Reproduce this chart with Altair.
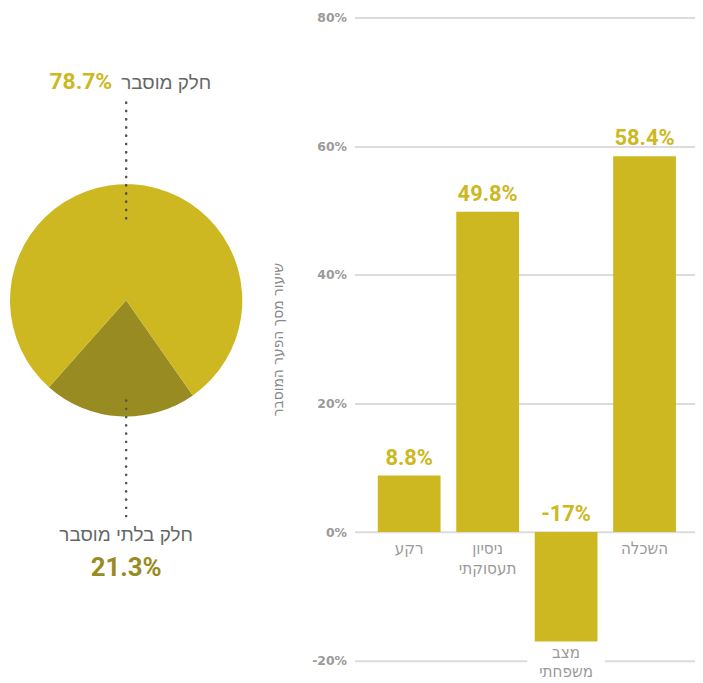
import altair as alt
import pandas as pd

# ---- data ----
categories = ["רקע", "ניסיון\nתעסוקתי", "מצב\nמשפחתי", "השכלה"]
shares = [8.8, 49.8, -17.0, 58.4]
y_ticks = [-20, 0, 20, 40, 60, 80]

pie_parts = ["חלק בלתי מוסבר", "חלק מוסבר"]
pie_values = [21.3, 78.7]
pie_order = [0, 1]

LIGHT = "#CDB822"
DARK = "#988B21"
NUM = "Roboto, 'DejaVu Sans Condensed', sans-serif"
HEB = "'Liberation Sans', 'DejaVu Sans Condensed', sans-serif"
COND = "'DejaVu Sans Condensed', sans-serif"

bars_df = pd.DataFrame({"cat": categories, "value": shares})
pie_df = pd.DataFrame({"part": pie_parts, "value": pie_values, "ord": pie_order})

# ---- pie panel ----
PW, PH = 250, 648
CX, CY = 119, 285

pie_base = alt.Chart(pie_df)
arc = pie_base.mark_arc(radius=117).encode(
    theta=alt.Theta("value:Q", stack=True,
                    scale=alt.Scale(range=[2.53, 2.53 + 6.2832])),
    color=alt.Color("part:N", scale=alt.Scale(domain=pie_parts, range=[DARK, LIGHT]), legend=None),
    order=alt.Order("ord:Q"),
    x=alt.value(CX), y=alt.value(CY),
)

top_rule = pie_base.mark_rule(color="#555555", strokeWidth=2.4, strokeDash=[0.01, 8.3],
                              strokeCap="round").encode(
    x=alt.value(CX), y=alt.value(86), y2=alt.value(208))
bot_rule = pie_base.mark_rule(color="#555555", strokeWidth=2.4, strokeDash=[0.01, 8.3],
                              strokeCap="round").encode(
    x=alt.value(CX), y=alt.value(386), y2=alt.value(506))

expl = pie_base.transform_filter(alt.datum.ord == 1).transform_calculate(
    pct="datum.value + '%'")
unexpl = pie_base.transform_filter(alt.datum.ord == 0).transform_calculate(
    pct="datum.value + '%'")

top_name = expl.mark_text(font=HEB, fontSize=19, color="#666666", align="left",
                          baseline="middle").encode(
    x=alt.value(114), y=alt.value(66), text="part:N")
top_pct = expl.mark_text(font=NUM, fontSize=23, fontWeight="bold", color=LIGHT,
                         align="right", baseline="middle").encode(
    x=alt.value(105), y=alt.value(65), text="pct:N")
bot_name = unexpl.mark_text(font=HEB, fontSize=19, color="#666666", align="center",
                            baseline="middle").encode(
    x=alt.value(CX), y=alt.value(521), text="part:N")
bot_pct = unexpl.mark_text(font=NUM, fontSize=26, fontWeight="bold", color=DARK,
                           align="center", baseline="middle").encode(
    x=alt.value(CX), y=alt.value(555), text="pct:N")

pie_panel = alt.layer(arc, top_rule, bot_rule, top_name, top_pct, bot_name, bot_pct).properties(
    width=PW, height=PH)

# ---- bar panel ----
xenc = alt.X("cat:N", sort=categories, axis=None,
             scale=alt.Scale(paddingInner=0.2, paddingOuter=0.27, align=0.55))
yscale = alt.Scale(domain=[-20, 80], nice=False)

base = alt.Chart(bars_df).transform_calculate(
    top="max(datum.value, 0)",
    bot="min(datum.value, 0)",
    lab="datum.value + '%'",
)

bars = base.mark_bar(color=LIGHT).encode(
    x=xenc,
    y=alt.Y("value:Q", scale=yscale,
            axis=alt.Axis(values=y_ticks, labelExpr="datum.value + '%'",
                          title="שיעור מסך הפער המוסבר")),
)

label_bg = base.transform_filter(alt.datum.value < 0).mark_point(
    shape="M-1,-0.5H1V0.5H-1Z", filled=True, color="white", opacity=1,
    size=6084, yOffset=20).encode(x=xenc, y=alt.Y("bot:Q", scale=yscale))

vals = base.mark_text(font=NUM, fontSize=22, fontWeight="bold", color=LIGHT,
                      baseline="bottom", dy=-6).encode(
    x=xenc, y=alt.Y("top:Q", scale=yscale), text="lab:N")

cats_pos = base.transform_filter(alt.datum.value >= 0).mark_text(
    font=COND, fontSize=17, color="#9a9a9a", baseline="top",
    dy=9, lineBreak="\n", lineHeight=20).encode(
    x=xenc, y=alt.Y("bot:Q", scale=yscale), text="cat:N")

cats_neg = base.transform_filter(alt.datum.value < 0).mark_text(
    font=COND, fontSize=17, color="#9a9a9a", baseline="top",
    dy=4, lineBreak="\n", lineHeight=19).encode(
    x=xenc, y=alt.Y("bot:Q", scale=yscale), text="cat:N")

bar_panel = alt.layer(label_bg, bars, vals, cats_pos, cats_neg).properties(width=343, height=648)

chart = alt.hconcat(pie_panel, bar_panel, spacing=14).properties(
    padding={"left": 0, "top": 1, "right": 0, "bottom": 0}
).configure_view(stroke=None).configure_axisY(
    grid=True, gridColor="#dcdcdc", gridWidth=2, domain=False, ticks=False,
    labelPadding=8, labelFont="DejaVu Sans", labelFontWeight="bold", labelFontSize=12.5,
    labelColor="#9a9a9a", titleFont=COND, titleFontSize=15.5, titleFontWeight="normal",
    titleColor="#8a8a8a", titlePadding=26,
)

chart.save("out.html", embed_options={"renderer": "svg", "actions": False})
